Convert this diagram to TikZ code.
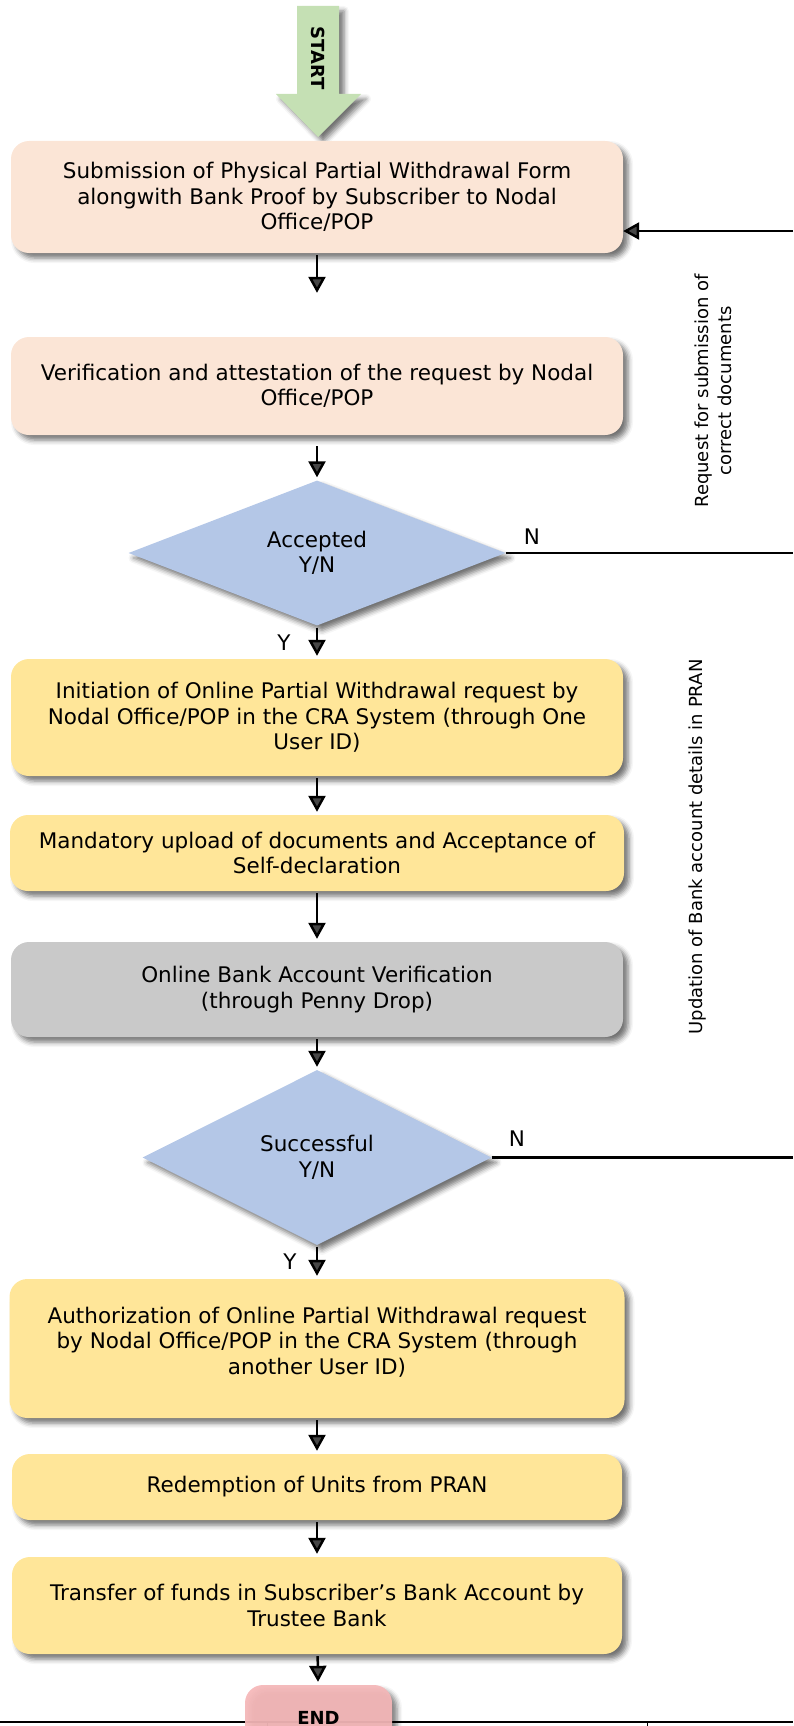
\documentclass[tikz,border=0pt]{standalone}
\usepackage{fontspec}
\setmainfont{DejaVu Sans}
\usetikzlibrary{shapes.geometric,arrows.meta,shadows.blur}
\definecolor{startgreen}{HTML}{C5E0B4}
\definecolor{peach}{HTML}{FBE5D6}
\definecolor{gold}{HTML}{FFE699}
\definecolor{greybox}{HTML}{C9C9C9}
\definecolor{decblue}{HTML}{B4C7E7}
\definecolor{endpink}{HTML}{F5B7B8}
\begin{document}
\begin{tikzpicture}[x=1pt,y=-1pt,
	softshadow/.style={blur shadow={shadow xshift=5pt,shadow yshift=-5pt,shadow blur radius=5pt,shadow opacity=55}},
	box/.style={rounded corners=18pt,minimum width=612pt,inner sep=0pt,align=center,
		font=\fontsize{21.5}{25.5}\selectfont,softshadow},
	decision/.style={diamond,fill=decblue,inner sep=0pt,align=center,
		font=\fontsize{21.5}{25.5}\selectfont,softshadow},
	flow/.style={line width=2.5pt,shorten <=2pt,shorten >=3pt,-{Triangle[width=17pt,length=16pt]}},
	yn/.style={font=\fontsize{21.5}{25.5}\selectfont},
	sidenote/.style={rotate=90,align=center,font=\fontsize{18}{23}\selectfont}]
	\useasboundingbox (0,0) rectangle (793,1726);
	
	% start arrow
	\fill[startgreen,softshadow] (297,6) -- (339,6) -- (339,94) -- (361,94) -- (318,137)
		-- (276,94) -- (297,94) -- cycle;
	\node[rotate=-90,font=\fontsize{18}{20}\selectfont\bfseries] (start) at (318,58) {START};
	
	% steps
	\node[box,fill=peach,minimum height=112pt] (submit) at (317,197)
		{Submission of Physical Partial Withdrawal Form\\alongwith Bank Proof by Subscriber to Nodal\\Office/POP};
	\node[box,fill=peach,minimum height=98pt] (verify) at (317,386)
		{Verification and attestation of the request by Nodal\\Office/POP};
	\node[decision,minimum width=377pt,minimum height=145pt] (accepted) at (317,553)
		{Accepted\\Y/N};
	\node[box,fill=gold,minimum height=117pt] (initiate) at (317,717.5)
		{Initiation of Online Partial Withdrawal request by\\Nodal Office/POP in the CRA System (through One\\User ID)};
	\node[box,fill=gold,minimum width=614pt,minimum height=76pt] (upload) at (317,853)
		{Mandatory upload of documents and Acceptance of\\Self-declaration};
	\node[box,fill=greybox,minimum height=95pt] (pennydrop) at (317,989.5)
		{Online Bank Account Verification\\(through Penny Drop)};
	\node[decision,minimum width=349pt,minimum height=175pt] (successful) at (317,1157.5)
		{Successful\\Y/N};
	\node[box,fill=gold,minimum width=615pt,minimum height=139pt] (authorize) at (317,1348.5)
		{Authorization of Online Partial Withdrawal request\\by Nodal Office/POP in the CRA System (through\\another User ID)\\[-9.5pt]\mbox{}};
	\node[box,fill=gold,minimum width=610pt,minimum height=66pt] (redeem) at (317,1487)
		{Redemption of Units from PRAN};
	\node[box,fill=gold,minimum width=610pt,minimum height=97pt] (transfer) at (317,1605.5)
		{Transfer of funds in Subscriber’s Bank Account by\\Trustee Bank};
	
	% bottom rule
	\draw[line width=2pt] (0,1722) -- (793,1722);
	\draw[line width=1pt] (267,1722) -- (267,1726);
	\draw[line width=1pt] (647,1722) -- (647,1726);
	\node[box,fill=endpink,fill opacity=.93,text opacity=1,minimum width=147pt,minimum height=66pt,
		font=\fontsize{18}{20}\selectfont\bfseries] (finish) at (318.5,1718) {END};
	
	% main flow
	\draw[flow,shorten >=44pt] (submit) -- (verify);
	\draw[flow,shorten <=11pt] (verify) -- (accepted);
	\draw[flow] (accepted) -- (initiate);
	\draw[flow] (initiate) -- (upload);
	\draw[flow] (upload) -- (pennydrop);
	\draw[flow] (pennydrop) -- (successful);
	\draw[flow] (successful) -- (authorize);
	\draw[flow] (authorize) -- (redeem);
	\draw[flow] (redeem) -- (transfer);
	\draw[flow] (transfer) -- (finish);
	
	% Y/N labels
	\node[yn] (n1) at (532,537) {N};
	\node[yn] (y1) at (284,643) {Y};
	\node[yn] (n2) at (517,1139) {N};
	\node[yn] (y2) at (290,1262) {Y};
	
	% return paths
	\coordinate (back) at (793,231);
	\draw[flow,shorten <=0pt,shorten >=0pt] (back) -- (back -| submit.east);
	\draw[line width=2.5pt] (accepted.east) -- (accepted.east -| back);
	\draw[line width=2.5pt] (successful.east) -- (successful.east -| back);
	
	\node[sidenote] (resubmit) at (713,391) {Request for submission of\\correct documents};
	\node[sidenote] (update) at (698,847) {Updation of Bank account details in PRAN};
\end{tikzpicture}
\end{document}
